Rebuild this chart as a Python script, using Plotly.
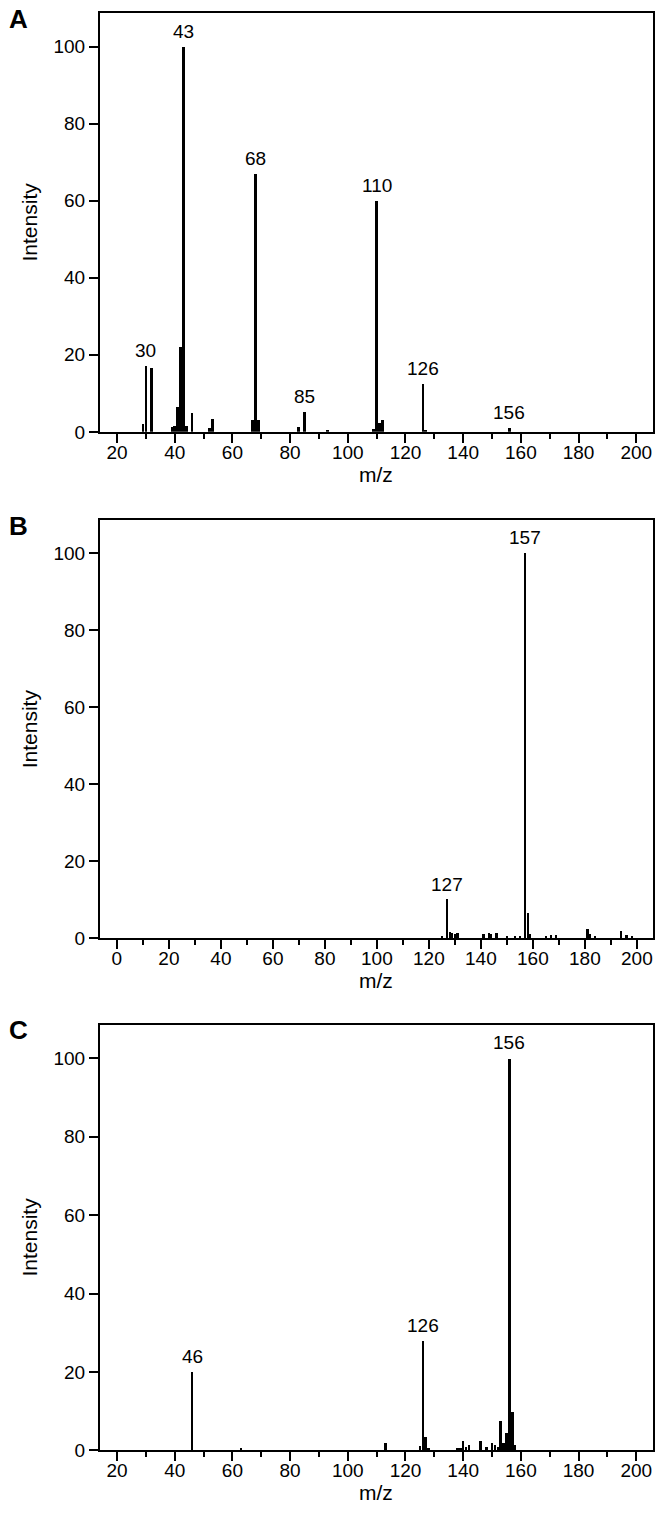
import plotly.graph_objects as go

W, H = 655, 1516

# Panel A spectrum
mz_a = [29, 30, 32, 39, 40, 41, 42, 43, 44, 46, 52, 53, 67, 68, 69, 83, 85, 93, 109, 110, 111, 112, 126, 127, 156]
int_a = [2, 17, 16.5, 1.3, 1.5, 6.5, 22, 100, 1.5, 4.8, 1, 3.4, 3, 67, 3, 1.3, 5.2, 0.6, 0.8, 60, 2.3, 3, 12.5, 0.5, 1]
lab_a = [30, 43, 68, 85, 110, 126, 156]
lab_a_y = [17, 100, 67, 5.2, 60, 12.5, 1]

# Panel B spectrum
mz_b = [125, 127, 128, 129, 130, 131, 141, 143, 144, 146, 150, 153, 155, 157, 158, 159,
        165, 167, 169, 181, 182, 184, 194, 196, 198]
int_b = [0.5, 10, 1.5, 1.3, 1, 1.2, 1, 1.2, 0.9, 1.2, 0.6, 0.6, 0.6, 100, 6.4, 1,
         0.5, 0.8, 0.8, 2.4, 0.9, 0.6, 1.9, 0.8, 0.6]
lab_b = [127, 157]
lab_b_y = [10, 100]

# Panel C spectrum
mz_c = [46, 63, 113, 125, 126, 127, 128, 138, 139, 140, 141, 142, 146, 148, 150, 151,
        152, 153, 154, 155, 156, 157, 158]
int_c = [20, 0.7, 2, 1.2, 28, 3.5, 0.8, 0.8, 0.8, 2.5, 1, 1.5, 2.5, 1, 2, 1.5,
         1, 7.5, 2, 4.5, 100, 10, 1.5]
lab_c = [46, 126, 156]
lab_c_y = [20, 28, 100]

x_ticks_ac = [20, 40, 60, 80, 100, 120, 140, 160, 180, 200]
x_ticks_b = [0, 20, 40, 60, 80, 100, 120, 140, 160, 180, 200]
y_ticks = [0, 20, 40, 60, 80, 100]

FONT = "Liberation Sans, Arial, sans-serif"

fig = go.Figure()

# letter, data..., x range, frame top px, zero-line px, px per intensity unit
panels = [
    ("A", mz_a, int_a, lab_a, lab_a_y, x_ticks_ac, [14.1, 205.8], 13, 435, 3.88),
    ("B", mz_b, int_b, lab_b, lab_b_y, x_ticks_b, [-6.5, 206.2], 524, 945, 3.88),
    ("C", mz_c, int_c, lab_c, lab_c_y, x_ticks_ac, [14.1, 205.8], 1032, 1461, 3.95),
]

x0_px, x1_px = 100, 653

for i, (letter, mz, inten, labs, labs_y, xt, xr, top_px, zero_px, ppu) in enumerate(panels):
    n = "" if i == 0 else str(i + 1)
    xa = "x" + n
    ya = "y" + n
    ymax = (zero_px - top_px) / ppu
    fig.add_trace(go.Bar(x=mz, y=inten, width=0.9, marker=dict(color="black", line=dict(width=0)),
                         xaxis=xa, yaxis=ya, showlegend=False))
    axis_common = dict(showline=True, linecolor="black", linewidth=2, mirror=True,
                       ticks="outside", tickcolor="black", tickwidth=1.5,
                       showgrid=False, zeroline=False,
                       tickfont=dict(family=FONT, size=19, color="black"))
    fig.layout["xaxis" + n] = dict(
        domain=[x0_px / W, x1_px / W], anchor=ya, range=xr,
        tickvals=xt, ticklen=9, ticklabelstandoff=-7,
        minor=dict(dtick=10, tick0=0, ticks="outside", ticklen=5, tickcolor="black", tickwidth=1.5),
        **axis_common)
    fig.layout["yaxis" + n] = dict(
        domain=[1 - zero_px / H, 1 - top_px / H], anchor=xa, range=[0, ymax],
        tickvals=y_ticks, ticklen=9,
        title=dict(text="Intensity", font=dict(family=FONT, size=21, color="black"), standoff=10),
        **axis_common)
    # x-axis title, placed just below the tick labels
    fig.add_annotation(x=(x0_px + x1_px) / 2 / W, y=1 - (zero_px + 29) / H, xref="paper", yref="paper",
                       text="m/z", showarrow=False, xanchor="center", yanchor="top",
                       font=dict(family=FONT, size=21, color="black"))
    for lx, ly in zip(labs, labs_y):
        fig.add_annotation(x=lx, y=ly, xref=xa, yref=ya, text=str(lx), showarrow=False,
                           yanchor="bottom", yshift=3,
                           font=dict(family=FONT, size=19, color="black"))
    fig.add_annotation(x=18 / W, y=1 - (top_px + 6) / H, xref="paper", yref="paper",
                       text="<b>" + letter + "</b>", showarrow=False,
                       xanchor="center", yanchor="middle",
                       font=dict(family=FONT, size=26, color="black"))

fig.update_layout(width=W, height=H, margin=dict(l=0, r=0, t=0, b=0),
                  plot_bgcolor="white", paper_bgcolor="white", bargap=0)

fig.write_html("out.html")
